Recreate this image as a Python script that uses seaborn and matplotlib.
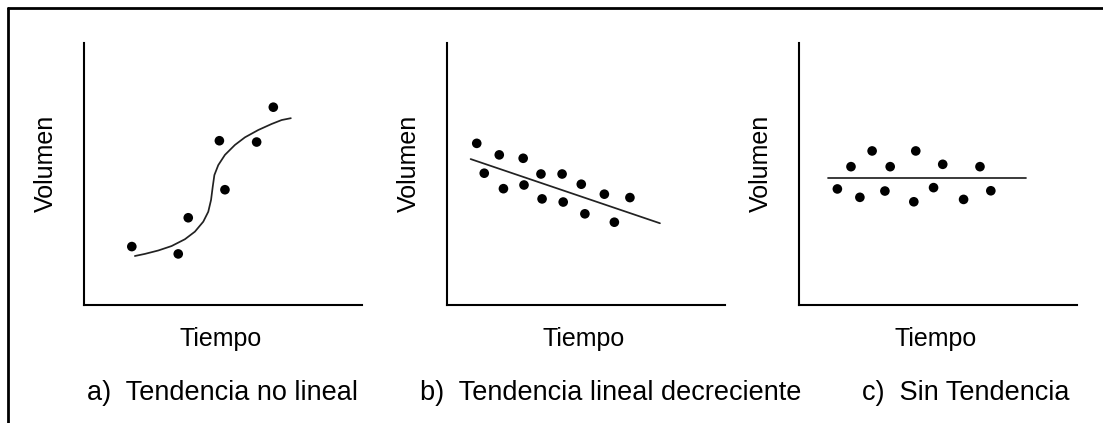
import matplotlib
matplotlib.use("Agg")
import matplotlib.pyplot as plt
from matplotlib.lines import Line2D
import seaborn as sns
import pandas as pd

sns.set_theme(style="white")
plt.rcParams['font.family'] = ['Liberation Sans', 'DejaVu Sans']

# ---- data (arbitrary units 0-10) ----
# a) non-linear trend
a_x = [1.72, 3.39, 3.75, 4.87, 5.07, 6.21, 6.81]
a_y = [2.23, 1.95, 3.33, 6.27, 4.40, 6.22, 7.55]
a_curve_x = [1.83, 2.19, 2.67, 3.15, 3.63, 3.99, 4.29, 4.47, 4.57, 4.63,
             4.69, 4.83, 5.07, 5.43, 5.79, 6.27, 6.75, 7.11, 7.44]
a_curve_y = [1.87, 1.95, 2.08, 2.25, 2.51, 2.80, 3.18, 3.56, 4.01, 4.51,
             4.96, 5.34, 5.73, 6.11, 6.40, 6.68, 6.91, 7.06, 7.13]

# b) decreasing linear trend
b_x = [1.07, 1.34, 1.88, 2.03, 2.74, 2.77, 3.38, 3.42, 4.14, 4.18,
       4.83, 4.96, 5.66, 6.02, 6.58]
b_y = [6.17, 5.03, 5.73, 4.44, 5.60, 4.58, 5.00, 4.05, 5.00, 3.93,
       4.61, 3.48, 4.23, 3.16, 4.10]
b_line_x = [0.85, 7.66]
b_line_y = [5.57, 3.12]

# c) no trend
c_x = [1.38, 1.87, 2.19, 2.63, 3.09, 3.28, 4.13, 4.20, 4.84, 5.17,
       5.92, 6.51, 6.90]
c_y = [4.43, 5.28, 4.11, 5.88, 4.35, 5.28, 3.94, 5.88, 4.48, 5.37,
       4.03, 5.28, 4.36]
c_line_x = [1.03, 8.15]
c_line_y = [4.84, 4.84]

x_label = "Tiempo"
y_label = "Volumen"
captions = ["a)  Tendencia no lineal",
            "b)  Tendencia lineal decreciente",
            "c)  Sin Tendencia"]

W, H = 1103, 423
fig = plt.figure(figsize=(W / 100, H / 100), dpi=100)
fig.patch.set_facecolor("white")

axes_px = [84, 447, 799]   # left edge of each panel (pixels)
ax_w, ax_h = 278, 262
ax_bottom = 305            # pixel y of x-axis

panels = [
    (a_x, a_y, a_curve_x, a_curve_y),
    (b_x, b_y, b_line_x, b_line_y),
    (c_x, c_y, c_line_x, c_line_y),
]
caption_x = [87, 420, 862]

for i, (px, py, lx, ly) in enumerate(panels):
    left = axes_px[i]
    ax = fig.add_axes([left / W, (H - ax_bottom) / H, ax_w / W, ax_h / H])
    ax.set_xlim(0, 10)
    ax.set_ylim(0, 10)
    line_df = pd.DataFrame({"x": lx, "y": ly})
    sns.lineplot(data=line_df, x="x", y="y", ax=ax, sort=False,
                 color="#222222", linewidth=1.25, estimator=None)
    pts_df = pd.DataFrame({"x": px, "y": py})
    sns.scatterplot(data=pts_df, x="x", y="y", ax=ax, color="black",
                    s=48, edgecolor="none", zorder=3)
    ax.set_xticks([])
    ax.set_yticks([])
    for side in ["top", "right"]:
        ax.spines[side].set_visible(False)
    for side in ["left", "bottom"]:
        ax.spines[side].set_color("black")
        ax.spines[side].set_linewidth(1.5)
    ax.set_xlabel(x_label, fontsize=18, color="black")
    ax.set_ylabel(y_label, fontsize=18, color="black")
    ax.xaxis.set_label_coords(0.49, -0.085)
    ax.yaxis.set_label_coords(-0.095, 0.54)
    ax.set_facecolor("white")

    fig.text(caption_x[i] / W, (H - 400) / H, captions[i], fontsize=19.5,
             ha="left", va="baseline", color="black")

# outer frame (top and left edges)
fig.add_artist(Line2D([8 / W, 1.0], [(H - 8) / H, (H - 8) / H],
                      transform=fig.transFigure, color="black", linewidth=2))
fig.add_artist(Line2D([8 / W, 8 / W], [0.0, (H - 8) / H],
                      transform=fig.transFigure, color="black", linewidth=2))

fig.savefig("out.png", dpi=100, facecolor="white")
